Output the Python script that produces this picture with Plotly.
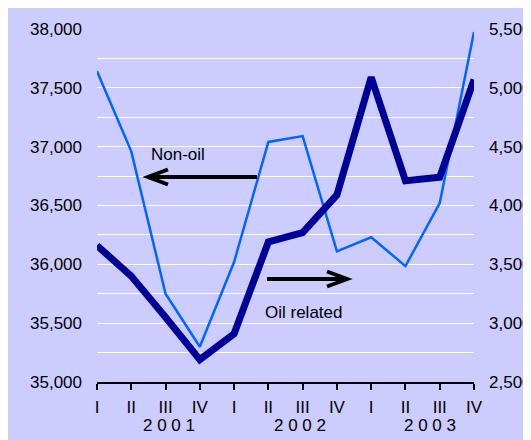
import plotly.graph_objects as go

# quarterly data, 2001-2003
quarters = ["I", "II", "III", "IV"] * 3
years = ["2 0 0 1", "2 0 0 2", "2 0 0 3"]
non_oil = [37640, 36960, 35750, 35300, 36020, 37040, 37090, 36110, 36230, 35985, 36520, 37975]
oil_related = [3660, 3400, 3050, 2690, 2910, 3690, 3770, 4090, 5090, 4210, 4240, 5070]

# the page body keeps its default 8px margin, so the figure is drawn 8px in
OFF = 8
W, H = 531 - OFF, 440 - OFF
L, T = 97 - OFF, 29 - OFF
R, B = W - (474 - OFF), H - (382 - OFF)
PW, PH = W - L - R, H - T - B
FONT = "Liberation Sans, Arial, sans-serif"
BG = "#CCCCFF"


def px_x(p):
    # screen pixel -> paper
    return (p - OFF - L) / PW


def px_y(p):
    return (H - B - (p - OFF)) / PH


idx = list(range(len(quarters)))

fig = go.Figure()
fig.add_trace(go.Scatter(x=idx, y=oil_related, yaxis="y2", mode="lines",
                         line=dict(color="#000099", width=7), name="Oil related"))
fig.add_trace(go.Scatter(x=idx, y=non_oil, mode="lines",
                         line=dict(color="#0066FF", width=2.5), name="Non-oil"))

shapes = [dict(type="rect", xref="paper", yref="paper", layer="below",
               x0=px_x(0), x1=px_x(540), y0=px_y(450), y1=px_y(0),
               fillcolor=BG, line=dict(width=0))]


def arrow(x_tail, x_head, y):
    d = 20 if x_head < x_tail else -20
    shapes.append(dict(type="path", xref="paper", yref="paper",
                       path=f"M{px_x(x_tail)},{px_y(y)} L{px_x(x_head)},{px_y(y)}",
                       line=dict(color="black", width=4)))
    shapes.append(dict(type="path", xref="paper", yref="paper",
                       path=(f"M{px_x(x_head + d)},{px_y(y - 7.5)} L{px_x(x_head)},{px_y(y)} "
                             f"L{px_x(x_head + d)},{px_y(y + 7.5)}"),
                       line=dict(color="black", width=4)))


arrow(257, 148, 177)
arrow(267, 347, 279)

label = dict(showarrow=False, xanchor="center", yanchor="middle", font=dict(size=17))
annotations = [
    dict(text="Non-oil", xref="paper", yref="paper", x=px_x(178), y=px_y(154), **label),
    dict(text="Oil related", xref="paper", yref="paper", x=px_x(303), y=px_y(312), **label),
]
for yr, xc in zip(years, [2.1, 5.92, 9.72]):
    annotations.append(dict(text=yr, xref="x", yref="paper", x=xc, y=px_y(425), **label))

fig.update_layout(
    width=W, height=H,
    margin=dict(l=L, r=R, t=T, b=B, autoexpand=False),
    paper_bgcolor="white",
    plot_bgcolor="rgba(0,0,0,0)",
    font=dict(family=FONT, size=17, color="black"),
    showlegend=False,
    shapes=shapes,
    annotations=annotations,
    xaxis=dict(range=[0, 11], tickvals=idx, ticktext=quarters,
               showline=True, linecolor="black", linewidth=2,
               ticks="outside", ticklen=6, tickwidth=2, tickcolor="black",
               ticklabelstandoff=3,
               showgrid=False, zeroline=False, automargin=False),
    yaxis=dict(range=[35000, 38000], dtick=500, tickformat=",",
               showgrid=True, gridcolor="white", gridwidth=1,
               minor=dict(dtick=250, showgrid=True, gridcolor="white", gridwidth=1),
               zeroline=False, showline=False, ticks="", ticklabelstandoff=14,
               automargin=False),
    yaxis2=dict(range=[2500, 5500], dtick=500, tickformat=",", overlaying="y",
                side="right", showgrid=False, zeroline=False, showline=False,
                ticks="", ticklabelstandoff=14, automargin=False),
)

fig.write_html("out.html")
